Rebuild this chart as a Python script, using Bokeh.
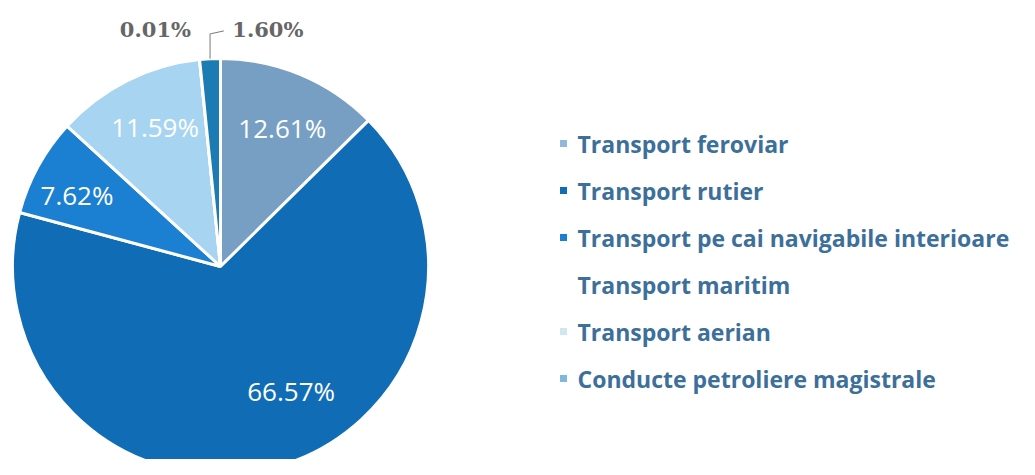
import numpy as np
from bokeh.plotting import figure
from bokeh.models import Range1d, ColumnDataSource
from bokeh.core.properties import value
from bokeh.embed import file_html
from bokeh.resources import INLINE

# ---- data ----
categories = [
    "Transport feroviar",
    "Transport rutier",
    "Transport pe cai navigabile interioare",
    "Transport maritim",
    "Transport aerian",
    "Conducte petroliere magistrale",
]
shares = [12.61, 66.57, 7.62, 11.59, 0.01, 1.60]
labels = ["12.61%", "66.57%", "7.62%", "11.59%", "0.01%", "1.60%"]

# ---- style ----
colors = ["#769fc3", "#106db5", "#1b80d2", "#a6d4f1", "#d2eaf8", "#1b7bb2"]
legend_colors = ["#8fb8dc", "#106db5", "#1b80d2", "#ffffff", "#cfe6f5", "#7fb8df"]
label_inside = [True, True, True, True, False, False]
label_rfrac = [0.73, 0.69, 0.77, 0.74, 1.18, 1.16]
label_dang = [1.3, -14.7, -2.4, 1.5, -9.6, 14.2]  # degrees, clockwise

W, H = 1019, 459
cx, cy, R = 220, -266, 208

p = figure(width=W, height=H, output_backend="svg", toolbar_location=None,
           x_range=Range1d(0, W), y_range=Range1d(-H, 0),
           min_border=0, outline_line_color=None)
p.axis.visible = False
p.grid.visible = False
p.background_fill_color = "white"
p.border_fill_color = "white"

fr = np.array(shares) / sum(shares)
cum = np.concatenate([[0], np.cumsum(fr)])
start = np.pi / 2 - 2 * np.pi * cum[:-1]
end = np.pi / 2 - 2 * np.pi * cum[1:]

src = ColumnDataSource(dict(start=start, end=end, color=colors))
p.wedge(x=cx, y=cy, radius=R, start_angle="start", end_angle="end",
        direction="clock", fill_color="color", line_color="white",
        line_width=3, source=src)

# labels
mid_cw = 360 * (cum[:-1] + cum[1:]) / 2 + np.array(label_dang)
th = np.radians(mid_cw)
lx = cx + np.array(label_rfrac) * R * np.sin(th)
ly = cy + np.array(label_rfrac) * R * np.cos(th)
for i in range(len(labels)):
    if label_inside[i]:
        p.text(x=[lx[i]], y=[ly[i]], text=[labels[i]], text_align="center",
               text_baseline="middle", text_color="white",
               text_font=value("Open Sans"), text_font_size="26px")
    else:
        p.text(x=[lx[i]], y=[ly[i]], text=[labels[i]], text_align="center",
               text_baseline="middle", text_color="#666666",
               text_font=value("DejaVu Serif"), text_font_style="bold",
               text_font_size="21px")

# leader line for the 1.60% slice
i = 5
a0 = np.radians(360 * (cum[i] + cum[i + 1]) / 2)
ex, ey = cx + R * np.sin(a0), cy + R * np.cos(a0)
p.line(x=[ex, ex, lx[i] - 44], y=[ey, ly[i] - 4, ly[i] - 1],
       line_color="#7a7a7a", line_width=1)

# legend
lg_x, lg_y0, lg_dy = 563, -143, -47
for k, cat in enumerate(categories):
    yk = lg_y0 + k * lg_dy
    p.scatter(x=[lg_x], y=[yk], marker="square", size=7,
              fill_color=legend_colors[k], line_color=None)
    p.text(x=[lg_x + 14], y=[yk], text=[cat], text_align="left",
           text_baseline="middle", text_color="#3d6f9b",
           text_font=value("Open Sans"), text_font_style="bold",
           text_font_size="23px")

open("out.html", "w").write(file_html(p, INLINE))
